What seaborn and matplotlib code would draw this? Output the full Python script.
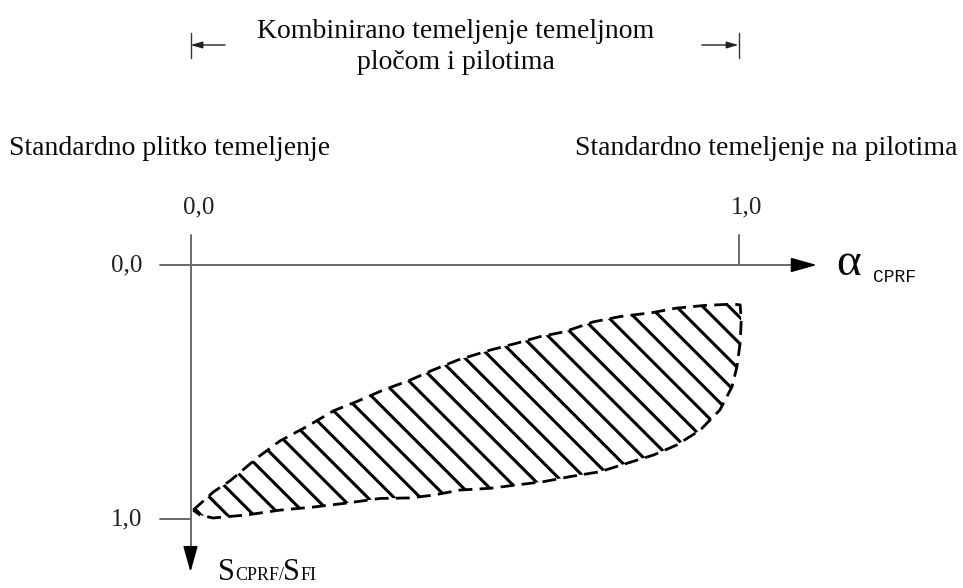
import numpy as np
import pandas as pd
import matplotlib
matplotlib.use('Agg')
import matplotlib.pyplot as plt
import seaborn as sns

# boundary of the hatched zone (alpha_CPRF, S_CPRF/S_FI)
upper_x = [0.005, 0.042, 0.072, 0.123, 0.163, 0.214, 0.261, 0.303, 0.352, 0.401, 0.443,
           0.488, 0.547, 0.595, 0.638, 0.682, 0.735, 0.784, 0.844, 0.886, 0.939, 0.990, 1.003]
upper_y = [0.965, 0.893, 0.850, 0.757, 0.693, 0.634, 0.574, 0.538, 0.492, 0.453, 0.413,
           0.374, 0.335, 0.308, 0.282, 0.263, 0.224, 0.203, 0.187, 0.170, 0.159, 0.154, 0.157]
lower_x = [1.005, 1.003, 0.997, 0.988, 0.966, 0.930, 0.887, 0.845, 0.796, 0.747, 0.693, 0.644,
           0.595, 0.547, 0.492, 0.443, 0.401, 0.346, 0.286, 0.224, 0.163, 0.103, 0.041, 0.017, 0.005]
lower_y = [0.217, 0.307, 0.402, 0.480, 0.571, 0.650, 0.709, 0.748, 0.781, 0.814, 0.833, 0.853,
           0.866, 0.879, 0.886, 0.906, 0.917, 0.919, 0.937, 0.953, 0.965, 0.984, 0.996, 0.984, 0.965]

tick_values = [0.0, 1.0]
tick_labels = ['0,0', '1,0']

title_text = 'Kombinirano temeljenje temeljnom\npločom i pilotima'
left_text = 'Standardno plitko temeljenje'
right_text = 'Standardno temeljenje na pilotima'

sns.set_theme(style='white')
plt.rcParams['font.family'] = ['Liberation Serif', 'DejaVu Serif']

W, H = 963, 588
fig = plt.figure(figsize=(W / 100, H / 100), dpi=100)
ax = fig.add_axes([0, 0, 1, 1])

# pixel calibration: origin at (190.5, 265), 548 px per unit in x, 254 px per unit in y
ox, oy, sx, sy = 190.5, 265, 548, 254


def fx(px):
    return px / W


def fy(py):
    return 1 - py / H


axis_col = '#6a6a6a'
txt_col = '#0a0a0a'

# axes lines with arrow heads
ax.plot([-0.055, 1.10], [0, 0], color=axis_col, lw=1.4)
ax.plot([0, 0], [-0.118, 1.114], color=axis_col, lw=1.4)
head = dict(arrowstyle='-|>,head_length=1.6,head_width=0.45', color='black',
            mutation_scale=10, shrinkA=0, shrinkB=0, lw=1.2)
ax.annotate('', xy=(1.143, 0), xytext=(1.10, 0), arrowprops=head)
ax.annotate('', xy=(0, 1.209), xytext=(0, 1.114), arrowprops=head)

# ticks at 1,0
ax.plot([tick_values[1], tick_values[1]], [-0.118, 0], color=axis_col, lw=1.4)
ax.plot([-0.055, 0], [tick_values[1], tick_values[1]], color=axis_col, lw=1.4)

for v, lab in zip(tick_values, tick_labels):
    ax.annotate(lab, xy=(v, 0), xytext=(8, 58), textcoords='offset pixels',
                ha='center', va='center', fontsize=18, color='#222222')
    ax.annotate(lab, xy=(0, v), xytext=(-64, 0), textcoords='offset pixels',
                ha='center', va='center', fontsize=18, color='#222222')

# hatched zone
poly_x = upper_x + lower_x
poly_y = upper_y + lower_y
zone = ax.fill(poly_x, poly_y, facecolor='none', edgecolor='none')[0]

spacing = 26.3 / sx
slope = sy / sx
x0s = np.arange(0.187 - 14 * spacing, 1.1, spacing)
yy = np.array([-0.1, 1.2])
for x0 in x0s:
    ln, = ax.plot(x0 + slope * yy, yy, color='black', lw=2.2, solid_capstyle='butt')
    ln.set_clip_path(zone)

outline = pd.DataFrame({'a': poly_x + [poly_x[0]], 's': poly_y + [poly_y[0]]})
sns.lineplot(data=outline, x='a', y='s', sort=False, estimator=None, ax=ax,
             color='black', lw=2.0, linestyle=(0, (5.0, 2.6)))

ax.set_xlim(-ox / sx, (W - ox) / sx)
ax.set_ylim((H - oy) / sy, -oy / sy)
ax.set_axis_off()

# bracket for combined foundation
yb = (45 - oy) / sy
for v, start in [(tick_values[0], 0.063), (tick_values[1], 0.933)]:
    ax.plot([v, v], [(33 - oy) / sy, (58 - oy) / sy], color='#333333', lw=1.0)
    ax.annotate('', xy=(v, yb), xytext=(start, yb),
                arrowprops=dict(arrowstyle='-|>,head_length=0.7,head_width=0.2',
                                color='#222222', mutation_scale=10, shrinkA=0, shrinkB=0, lw=1.0))

fig.text(fx(456), fy(47), title_text, ha='center', va='center', fontsize=20,
         linespacing=1.3, color=txt_col)
fig.text(fx(9), fy(148), left_text, ha='left', va='center', fontsize=20, color=txt_col)
fig.text(fx(957), fy(148), right_text, ha='right', va='center', fontsize=20, color=txt_col)

# axis titles
fig.text(fx(836), fy(275), 'α', ha='left', va='baseline', fontsize=34, color=txt_col)
fig.text(fx(873), fy(282), 'CPRF', ha='left', va='baseline', fontsize=13,
         family='Liberation Mono', color=txt_col)

fig.text(fx(218), fy(580), 'S', ha='left', va='baseline', fontsize=22, color=txt_col)
fig.text(fx(235), fy(580), 'CPRF/', ha='left', va='baseline', fontsize=13, color=txt_col)
fig.text(fx(283), fy(580), 'S', ha='left', va='baseline', fontsize=22, color=txt_col)
fig.text(fx(301), fy(580), 'FI', ha='left', va='baseline', fontsize=13, color=txt_col)

plt.savefig('out.png', dpi=100)
